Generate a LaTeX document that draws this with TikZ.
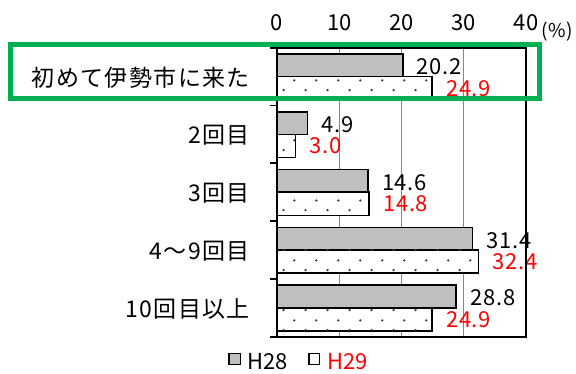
\documentclass[tikz,border=0pt]{standalone}
\usepackage{fontspec}
\setmainfont{Noto Sans CJK JP}
\usetikzlibrary{patterns}
\definecolor{barh28}{RGB}{191,191,191}
\definecolor{dotgray}{RGB}{60,60,60}
\definecolor{gridgray}{RGB}{134,134,134}
\definecolor{framegreen}{RGB}{0,176,80}
\definecolor{valred}{RGB}{255,0,0}
\pgfdeclarepatternformonly{bardots}{\pgfqpoint{0pt}{0pt}}{\pgfqpoint{21.67pt}{20pt}}{\pgfqpoint{21.67pt}{20pt}}{%
  \pgfpathcircle{\pgfqpoint{1.6pt}{4pt}}{1.3pt}%
  \pgfpathcircle{\pgfqpoint{12.43pt}{14pt}}{1.3pt}%
  \pgfusepath{fill}}
\begin{document}
\begin{tikzpicture}[x=1pt,y=-1pt,
    every node/.style={inner sep=0pt},
    barA/.style={draw=black,line width=1.6pt,fill=barh28},
    barB/.style={draw=black,line width=1.6pt,fill=white,
      postaction={pattern=bardots,pattern color=dotgray}},
    gridline/.style={draw=gridgray,line width=1.2pt},
    axisline/.style={draw=black,line width=1.8pt},
    catlabel/.style={anchor=east,font=\fontsize{23}{25}\selectfont\addfontfeature{LetterSpace=6}},
    ticklabel/.style={font=\fontsize{22}{24}\selectfont},
    valA/.style={anchor=west,font=\fontsize{22}{24}\selectfont\addfontfeature{LetterSpace=3}},
    valB/.style={valA,text=valred},
    legtext/.style={anchor=west,font=\fontsize{22}{24}\selectfont}]
  \useasboundingbox (0,0) rectangle (576,374);
  % plot area, one unit = 1 %, one row = one category
  \begin{scope}[shift={(277,47.7)},x=6.225pt,y=-57.8pt]
    \foreach \v in {10,20,30}
      \draw[gridline] (\v,0) -- (\v,5);
    \foreach \i/\a/\b in {0/20.2/24.9,1/4.9/3.0,2/14.6/14.8,3/31.4/32.4,4/28.8/24.9} {
      \draw[barA] (0,\i+0.11) rectangle (\a,\i+0.5);
      \draw[barB] (0,\i+0.5) rectangle (\b,\i+0.9);
      \node[valA] (h28v\i) at (\a,\i+0.33) [xshift=14pt] {\a};
      \node[valB] (h29v\i) at (\b,\i+0.70) [xshift=14pt] {\b};
    }
    \draw[axisline] (0,0) rectangle (40,5);
    \foreach \k in {0,...,5}
      \draw[axisline] (0,\k) -- ++(-7pt,0);
    \foreach \v in {0,10,20,30,40}
      \node[ticklabel] (tick\v) at (\v,0) [yshift=24.7pt] {\v};
    \foreach \i/\t in {0/初めて伊勢市に来た,1/2回目,2/3回目,3/4～9回目,4/10回目以上}
      \node[catlabel] (cat\i) at (0,\i+0.5) [xshift=-27pt,yshift=-1pt] {\t};
  \end{scope}
  \node[font=\fontsize{19}{21}\selectfont\addfontfeature{LetterSpace=3}] (unit) at (557,31.5) {(\%)};
  % legend
  \draw[barA,line width=1.4pt] (229,353.5) rectangle (240.5,364.5);
  \node[legtext] (legh28) at (247.5,361.3) {H28};
  \draw[barA,fill=white,line width=1.4pt] (309,353.5) rectangle (319.5,364.5);
  \node[legtext,text=valred] (legh29) at (327.5,361.3) {H29};
  % highlight frame
  \draw[framegreen,line width=5pt] (10.5,44.2) rectangle (539.2,98.8);
\end{tikzpicture}
\end{document}
